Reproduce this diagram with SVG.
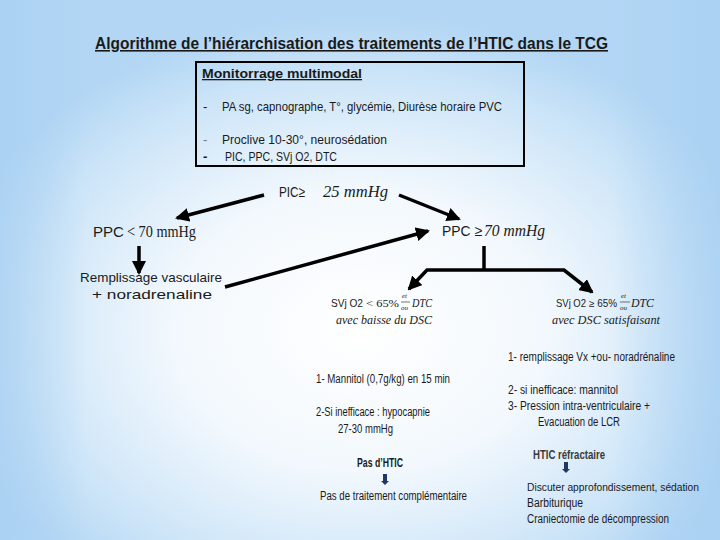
<svg xmlns="http://www.w3.org/2000/svg" width="720" height="540" viewBox="0 0 720 540">
<defs>
<radialGradient id="bg" cx="360" cy="330" r="420" gradientUnits="userSpaceOnUse" gradientTransform="translate(360 330) scale(1 0.75) translate(-360 -330)">
<stop offset="0" stop-color="#ffffff"/>
<stop offset="0.45" stop-color="#f2f8fd"/>
<stop offset="0.8" stop-color="#cde5f8"/>
<stop offset="1" stop-color="#b2d6f4"/>
</radialGradient>
<linearGradient id="sides" x1="0" y1="0" x2="1" y2="0">
<stop offset="0" stop-color="#a9d0f2" stop-opacity="0.7"/>
<stop offset="0.12" stop-color="#a9d0f2" stop-opacity="0"/>
<stop offset="0.85" stop-color="#a9d0f2" stop-opacity="0"/>
<stop offset="1" stop-color="#a9d0f2" stop-opacity="0.8"/>
</linearGradient>
<marker id="ah" viewBox="0 0 14 14" refX="12" refY="7" markerWidth="14" markerHeight="14" markerUnits="userSpaceOnUse" orient="auto">
<path d="M0,0 L14,7 L0,14 z" fill="#000"/>
</marker>
<g id="navy-arrow">
<rect x="-2" y="0" width="4" height="7" fill="#1f3864"/>
<path d="M-4,7 L4,7 L0,11 z" fill="#1f3864"/>
</g>
</defs>
<style>
text { font-family: "Liberation Sans", Arial, sans-serif; fill: #1a1a1a; }
.t { font-size: 13px; }
.s { font-size: 12px; }
.b { font-weight: bold; }
.u { text-decoration: underline; }
.m { font-family: "Liberation Serif", "Times New Roman", serif; }
.i { font-style: italic; }
.ln { stroke: #000; stroke-width: 3.5; fill: none; }
</style>
<rect width="720" height="540" fill="url(#bg)"/>
<rect width="720" height="540" fill="url(#sides)"/>

<g id="title">
<text x="95" y="49" font-size="16" class="b u" textLength="513" lengthAdjust="spacingAndGlyphs">Algorithme de l’hiérarchisation des traitements de l’HTIC dans le TCG</text>
</g>

<g id="monitorrage">
<rect x="196" y="62" width="328" height="104" fill="none" stroke="#000" stroke-width="2"/>
<text x="202" y="78" class="t b u" textLength="160" lengthAdjust="spacingAndGlyphs">Monitorrage multimodal</text>
<text x="203" y="111" class="t">-</text>
<text x="222" y="111" class="t" textLength="280" lengthAdjust="spacingAndGlyphs">PA sg, capnographe, T°, glycémie, Diurèse horaire PVC</text>
<text x="203" y="144" class="t" style="fill:#777">-</text>
<text x="222" y="144" class="t" textLength="165" lengthAdjust="spacingAndGlyphs">Proclive  10-30°, neurosédation</text>
<text x="203" y="161" class="t b">-</text>
<text x="225" y="161" class="t" textLength="112" lengthAdjust="spacingAndGlyphs">PIC, PPC, SVj O2, DTC</text>
</g>

<g id="pic">
<text x="279" y="197" font-size="15" textLength="26" lengthAdjust="spacingAndGlyphs">PIC≥</text>
<text x="323" y="197" font-size="16" class="m i" textLength="65" lengthAdjust="spacingAndGlyphs">25 mmHg</text>
</g>

<g id="ppc-low">
<text x="93" y="237" font-size="15" textLength="31" lengthAdjust="spacingAndGlyphs">PPC</text>
<text x="127" y="237" font-size="16" class="m" textLength="69" lengthAdjust="spacingAndGlyphs">&lt; 70 mmHg</text>
</g>

<g id="remplissage">
<text x="80" y="282" class="t" textLength="142" lengthAdjust="spacingAndGlyphs">Remplissage vasculaire</text>
<text x="92" y="299" class="t" textLength="120" lengthAdjust="spacingAndGlyphs">+  noradrenaline</text>
</g>

<g id="ppc-high">
<text x="442" y="236" font-size="15" textLength="40" lengthAdjust="spacingAndGlyphs">PPC ≥</text>
<text x="484" y="236" font-size="16" class="m i" textLength="61" lengthAdjust="spacingAndGlyphs">70 mmHg</text>
</g>

<g id="svj-low">
<text x="331" y="307" font-size="11" textLength="32" lengthAdjust="spacingAndGlyphs">SVj O2</text>
<text x="366" y="307" font-size="11" class="m" textLength="33" lengthAdjust="spacingAndGlyphs">&lt; 65%</text>
<text x="402" y="298" font-size="7" class="m i">et</text>
<line x1="401" y1="302" x2="410" y2="302" stroke="#1a1a1a" stroke-width="0.6"/>
<text x="401" y="310" font-size="7" class="m i">ou</text>
<text x="412" y="307" font-size="12" class="m i" textLength="20" lengthAdjust="spacingAndGlyphs">DTC</text>
<text x="336" y="324" font-size="12" class="m i" textLength="96" lengthAdjust="spacingAndGlyphs">avec baisse du DSC</text>
</g>

<g id="svj-high">
<text x="556" y="307" font-size="11" textLength="30" lengthAdjust="spacingAndGlyphs">SVj O2</text>
<text x="589" y="307" font-size="10" textLength="28" lengthAdjust="spacingAndGlyphs">≥ 65%</text>
<text x="621" y="298" font-size="7" class="m i">et</text>
<line x1="620" y1="302" x2="630" y2="302" stroke="#1a1a1a" stroke-width="0.6"/>
<text x="620" y="310" font-size="7" class="m i">ou</text>
<text x="631" y="307" font-size="12" class="m i" textLength="23" lengthAdjust="spacingAndGlyphs">DTC</text>
<text x="552" y="324" font-size="12" class="m i" textLength="108" lengthAdjust="spacingAndGlyphs">avec DSC satisfaisant</text>
</g>

<g id="mannitol">
<text x="316" y="383" class="s" textLength="134" lengthAdjust="spacingAndGlyphs">1- Mannitol (0,7g/kg) en 15 min</text>
<text x="316" y="416" class="s" textLength="114" lengthAdjust="spacingAndGlyphs">2-Si inefficace : hypocapnie</text>
<text x="338" y="433" class="s" textLength="55" lengthAdjust="spacingAndGlyphs">27-30 mmHg</text>
</g>

<g id="pas-htic">
<text x="357" y="467" class="s b" textLength="46" lengthAdjust="spacingAndGlyphs">Pas d’HTIC</text>
<use href="#navy-arrow" x="385" y="474"/>
<text x="320" y="500" class="s" textLength="147" lengthAdjust="spacingAndGlyphs">Pas de traitement complémentaire</text>
</g>

<g id="traitement-droit">
<text x="508" y="361" class="s" textLength="167" lengthAdjust="spacingAndGlyphs">1- remplissage Vx +ou- noradrénaline</text>
<text x="508" y="394" class="s" textLength="110" lengthAdjust="spacingAndGlyphs">2- si inefficace: mannitol</text>
<text x="508" y="410" class="s" textLength="142" lengthAdjust="spacingAndGlyphs">3- Pression intra-ventriculaire +</text>
<text x="538" y="426" class="s" textLength="82" lengthAdjust="spacingAndGlyphs">Evacuation de LCR</text>
</g>

<g id="htic-refractaire">
<text x="533" y="459" class="s b" style="fill:#3a3a3a" textLength="72" lengthAdjust="spacingAndGlyphs">HTIC réfractaire</text>
<use href="#navy-arrow" x="566" y="462"/>
<text x="527" y="491" font-size="10" textLength="172" lengthAdjust="spacingAndGlyphs">Discuter approfondissement,  sédation</text>
<text x="527" y="507" class="s" textLength="56" lengthAdjust="spacingAndGlyphs">Barbiturique</text>
<text x="527" y="523" class="s" textLength="142" lengthAdjust="spacingAndGlyphs">Craniectomie de décompression</text>
</g>

<g id="connectors">
<line class="ln" x1="264" y1="195" x2="177" y2="218" marker-end="url(#ah)"/>
<line class="ln" x1="399" y1="195" x2="459" y2="219" marker-end="url(#ah)"/>
<line class="ln" x1="139" y1="246" x2="139" y2="273" marker-end="url(#ah)"/>
<line class="ln" x1="225" y1="287" x2="428" y2="231" marker-end="url(#ah)"/>
<line class="ln" x1="484" y1="246" x2="484" y2="271"/>
<path class="ln" d="M484,270 H427 L409,289" marker-end="url(#ah)"/>
<path class="ln" d="M484,270 H564 L592,292" marker-end="url(#ah)"/>
</g>
</svg>
